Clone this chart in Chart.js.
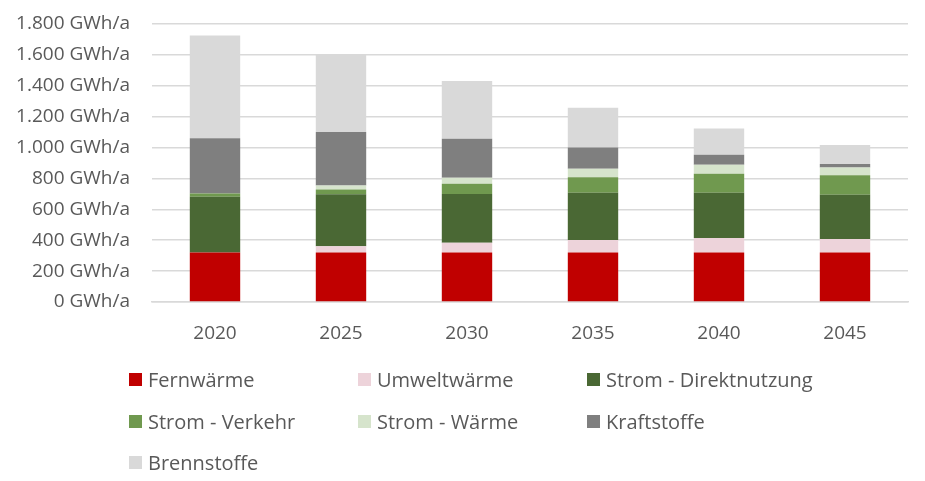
<!DOCTYPE html>
<html lang="de">
<head>
<meta charset="utf-8">
<title>Endenergie nach Energieträger</title>
<script src="https://cdn.jsdelivr.net/npm/chart.js@4"></script>
<style>
  body { margin: 0; background: #fff; font-family: 'Open Sans', sans-serif; }
  #wrap { position: relative; width: 925px; height: 481px; }
  #legend { position: absolute; left: 0; top: 0; width: 925px; height: 481px; pointer-events: none; }
  .item { position: absolute; display: flex; align-items: center; height: 24px; color: #595959; font-size: 20px; white-space: nowrap; }
  .item span.box { display: inline-block; width: 13px; height: 13px; margin-right: 6px; }
</style>
</head>
<body>
<div id="wrap">
  <canvas id="chart" width="925" height="350"></canvas>
  <div id="legend"></div>
</div>
<script>
// Jahre (Kategorien)
const years = ["2020", "2025", "2030", "2035", "2040", "2045"];

// Werte in GWh/a, von unten nach oben gestapelt
const fernwaerme   = [320, 320, 320, 320, 320, 320];
const umweltwaerme = [0, 41, 63, 82, 95, 88];
const stromDirekt  = [361, 337, 317, 305, 292, 286];
const stromVerkehr = [22, 31, 65, 101, 123, 127];
const stromWaerme  = [0, 26, 39, 54, 58, 50];
const kraftstoffe  = [358, 345, 253, 139, 65, 22];
const brennstoffe  = [664, 499, 374, 257, 171, 123];

// Achse
const yTicks = [0, 200, 400, 600, 800, 1000, 1200, 1400, 1600, 1800];

const seriesNames = ["Fernwärme", "Umweltwärme", "Strom - Direktnutzung", "Strom - Verkehr", "Strom - Wärme", "Kraftstoffe", "Brennstoffe"];
const seriesValues = [fernwaerme, umweltwaerme, stromDirekt, stromVerkehr, stromWaerme, kraftstoffe, brennstoffe];
const seriesColors = ["#C00000", "#EDD3DA", "#4A6834", "#70994F", "#D6E4CC", "#7F7F7F", "#D9D9D9"];

// Zahl mit deutschem Tausenderpunkt
const formatDe = (v) => String(v).replace(/\B(?=(\d{3})+(?!\d))/g, ".");

Chart.defaults.font.family = "'Open Sans', sans-serif";
Chart.defaults.color = "#595959";

const ctx = document.getElementById("chart").getContext("2d");
const chart = new Chart(ctx, {
    type: "bar",
    data: {
        labels: years,
        datasets: seriesNames.map((name, i) => ({
            label: name,
            data: seriesValues[i],
            backgroundColor: seriesColors[i],
            borderWidth: 0,
            barPercentage: 0.4,
            categoryPercentage: 1.0
        }))
    },
    options: {
        responsive: false,
        animation: false,
        layout: { padding: { left: 0, right: 17, top: 24, bottom: 0 } },
        plugins: {
            legend: { display: false },
            tooltip: { enabled: false }
        },
        scales: {
            x: {
                stacked: true,
                grid: { display: false },
                border: { color: "#D9D9D9", width: 1.5 },
                ticks: { font: { size: 19 }, padding: 12, color: "#595959" },
                afterFit: (scale) => { scale.height = 48; }
            },
            y: {
                stacked: true,
                min: 0,
                max: 1800,
                afterBuildTicks: (scale) => { scale.ticks = yTicks.map((v) => ({ value: v })); },
                grid: { color: "#D9D9D9", lineWidth: 1.5, drawTicks: false },
                border: { display: false },
                ticks: {
                    font: { size: 19 },
                    padding: 22,
                    color: "#595959",
                    callback: (v) => formatDe(v) + " GWh/a"
                },
                // feste Breite, kein Zusatzabstand oben
                afterFit: (scale) => { scale.width = 152; scale.paddingTop = 0; scale.paddingBottom = 0; }
            }
        }
    }
});

// Legende in drei Spalten, wie im Original
const legendEl = document.getElementById("legend");
const colX = [129, 358, 587];
const rowY = [367.5, 409, 450];
chart.data.datasets.forEach((ds, i) => {
    const item = document.createElement("div");
    item.className = "item";
    item.style.left = colX[i % 3] + "px";
    item.style.top = rowY[Math.floor(i / 3)] + "px";
    item.innerHTML = '<span class="box" style="background:' + ds.backgroundColor + '"></span>' + ds.label;
    legendEl.appendChild(item);
});
</script>
</body>
</html>
